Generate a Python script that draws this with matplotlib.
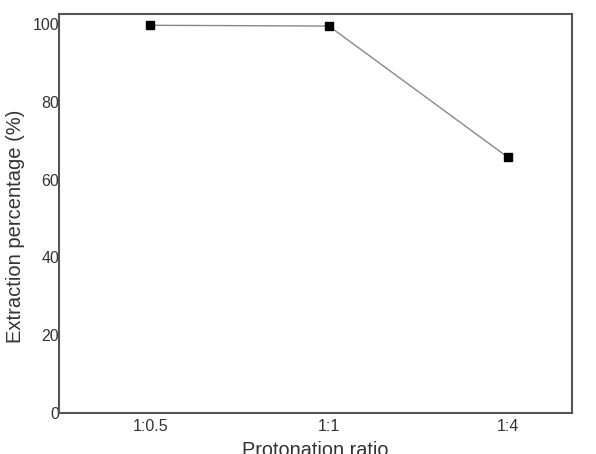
import matplotlib
matplotlib.use('Agg')
import matplotlib.pyplot as plt
import numpy as np

plt.rcParams['font.family'] = ['Liberation Sans', 'DejaVu Sans']

# data
ratios = ['1:0.5', '1:1', '1:4']
extraction = [99.7, 99.5, 65.8]
yticks = [0, 20, 40, 60, 80, 100]

fig = plt.figure(figsize=(5.96, 4.54), dpi=100)
ax = fig.add_axes([59 / 596, 1 - 413 / 454, (572 - 59) / 596, (413 - 14) / 454])

x = np.arange(len(ratios))
ax.plot(x, extraction, color='#888888', lw=1.0, marker='s', ms=6,
        mfc='black', mec='black', zorder=3)

ax.set_xlim(-0.51, 2.36)
ax.set_ylim(0, 102.6)
ax.set_xticks(x)
ax.set_xticklabels(ratios)
ax.set_yticks(yticks)
ax.tick_params(length=0, labelsize=11.5, colors='#333333')
ax.tick_params(axis='x', pad=4)
ax.tick_params(axis='y', pad=0)

for s in ax.spines.values():
    s.set_color('#555555')
    s.set_linewidth(1.5)

ax.set_xlabel('Protonation ratio', fontsize=14.3, color='#333333', labelpad=5)
ax.set_ylabel('Extraction percentage (%)', fontsize=14.5, color='#333333')
ax.yaxis.set_label_coords(-0.066, 0.469)

fig.savefig('out.png', dpi=100)
